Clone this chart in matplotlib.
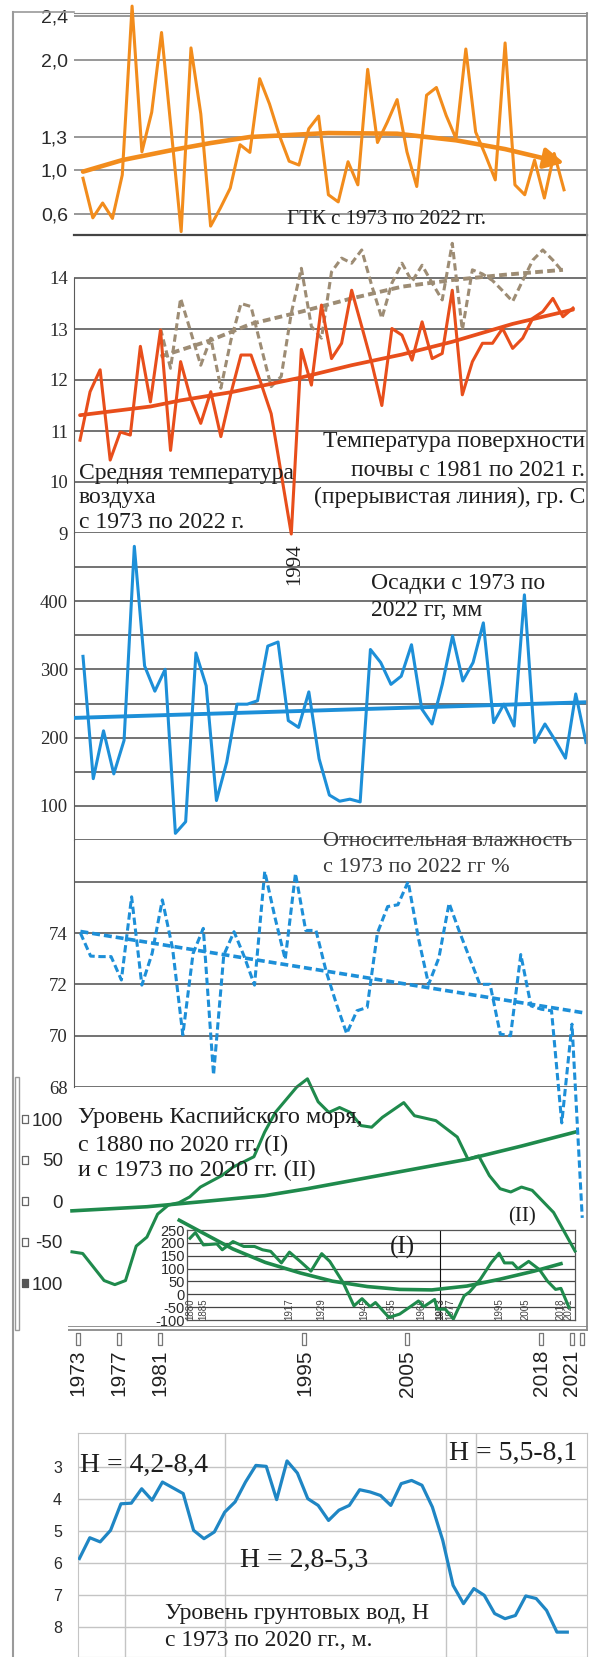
import matplotlib.pyplot as plt
from matplotlib.lines import Line2D
from matplotlib.patches import Rectangle

W, H = 593, 1657
SERIF = 'Liberation Serif'
SANS = 'Liberation Sans'

ORANGE = '#f28c1c'
RED = '#e84e1b'
BROWN = '#9d8c74'
BLUE = '#1d8fd8'
GREEN = '#1f8a4c'
GW_BLUE = '#1f86c4'

# ---------------- data ----------------
years = list(range(1973, 2023))

gtk_ticks = [2.4, 2.0, 1.3, 1.0, 0.6]
gtk_labels = ['2,4', '2,0', '1,3', '1,0', '0,6']
gtk = [0.925, 0.565, 0.70, 0.56, 0.955, 2.49, 1.165, 1.525, 2.25, 1.35,
       0.44, 2.11, 1.51, 0.49, 0.655, 0.835, 1.23, 1.16, 1.83, 1.60,
       1.315, 1.08, 1.045, 1.375, 1.49, 0.775, 0.71, 1.075, 0.865, 1.915,
       1.25, 1.435, 1.64, 1.165, 0.85, 1.68, 1.75, 1.495, 1.285, 2.10,
       1.345, 1.135, 0.91, 2.155, 0.865, 0.775, 1.09, 0.745, 1.15, 0.82]
gtk_trend_years = [1973, 1977, 1982, 1986, 1990, 1998, 2005, 2011, 2016, 2020, 2022]
gtk_trend = [0.985, 1.09, 1.18, 1.245, 1.30, 1.336, 1.33, 1.27, 1.19, 1.105, 1.066]

temp_ticks = [14, 13, 12, 11, 10, 9]
air_temp = [10.82, 11.77, 12.2, 10.43, 10.98, 10.92, 12.66, 11.57, 12.98, 10.62,
            12.36, 11.64, 11.15, 11.77, 10.89, 11.74, 12.49, 12.49, 11.93, 11.34,
            10.16, 8.98, 12.6, 11.9, 13.47, 12.42, 12.72, 13.76, 13.05, 12.33,
            11.5, 13.01, 12.88, 12.39, 13.14, 12.42, 12.52, 13.76, 11.71, 12.36,
            12.72, 12.72, 13.01, 12.62, 12.82, 13.21, 13.34, 13.6, 13.24, 13.41]
air_trend_years = [1973, 1980, 1983, 1988, 1995, 2000, 2005, 2010, 2016, 2022]
air_trend = [11.31, 11.48, 11.6, 11.76, 12.05, 12.29, 12.5, 12.75, 13.1, 13.38]

soil_years = list(range(1981, 2022))
soil_temp = [13.01, 12.23, 13.6, 12.95, 12.29, 12.82, 11.84, 12.78, 13.5, 13.44,
             12.65, 11.87, 12.07, 13.31, 14.19, 13.05, 12.82, 14.12, 14.39, 14.29,
             14.55, 13.85, 13.21, 13.9, 14.29, 13.93, 14.25, 13.9, 13.57, 14.68,
             12.98, 14.16, 14.08, 13.95, 13.75, 13.54, 13.95, 14.35, 14.55, 14.35, 14.12]
soil_trend_years = [1981, 1986, 1990, 1995, 2000, 2005, 2010, 2015, 2021]
soil_trend = [12.46, 12.78, 13.1, 13.34, 13.6, 13.83, 13.96, 14.06, 14.16]

precip_ticks = [400, 300, 200, 100]
precip_grid = [450, 400, 350, 300, 250, 200, 150, 100, 50]
precip = [319, 140, 210, 147, 196, 480, 305, 268, 300, 60,
          77, 324, 276, 108, 164, 249, 249, 254, 334, 340,
          225, 215, 267, 169, 116, 107, 110, 106, 329, 310,
          278, 290, 336, 242, 220, 278, 349, 283, 310, 368,
          222, 249, 217, 409, 193, 220, 196, 170, 264, 193]
precip_trend_years = [1972.3, 2022.4]
precip_trend = [229, 252]

hum_ticks = [74, 72, 70, 68]
hum_grid = [76, 74, 72, 70, 68]
humidity = [74.0, 73.1, 73.08, 73.08, 72.17, 75.41, 71.97, 73.2, 75.29, 73.4,
            70.03, 73.2, 74.18, 68.47, 73.14, 74.05, 73.08, 71.97, 76.4, 74.6,
            72.97, 76.32, 74.1, 74.1, 72.5, 71.23, 70.08, 70.97, 71.1, 74.0,
            75.03, 75.1, 76.0, 73.8, 72.0, 73.03, 75.16, 74.06, 73.03, 72.0,
            72.0, 70.06, 70.0, 73.16, 71.16, 71.03, 70.97, 66.6, 70.45, 62.9]
hum_trend_years = [1973, 2022]
hum_trend = [74.06, 70.9]

casp_ticks = [100, 50, 0, -50, -100]
casp_labels = ['100', '50', '0', '-50', '100']
casp_years = [1973, 1974, 1976, 1977, 1978, 1979, 1980, 1981, 1982, 1983,
              1984, 1985, 1987, 1988, 1990, 1991, 1992, 1994, 1995, 1996,
              1997, 1998, 1999, 2000, 2001, 2002, 2004, 2005, 2007, 2008,
              2009, 2010, 2011, 2012, 2013, 2014, 2015, 2016, 2018, 2020]
casp_level = [-62, -64, -97, -102, -97, -55, -44, -16, -5, -2,
              5, 17, 31, 41, 54, 84, 108, 139, 149, 121,
              108, 114, 108, 92, 90, 102, 120, 104, 98, 88,
              78, 51, 55, 31, 15, 11, 17, 13, -14, -61]
casp_trend_years = [1973, 1980, 1985, 1991, 1995, 2000, 2005, 2010, 2015, 2020]
casp_trend = [-12, -7, -1, 6.5, 15, 27, 39, 51, 67, 84]

long_ticks = [250, 200, 150, 100, 50, 0, -50, -100]
long_years = [1880, 1882, 1885, 1890, 1892, 1896, 1900, 1904, 1907, 1910,
              1914, 1917, 1921, 1925, 1929, 1932, 1937, 1941, 1944, 1947,
              1949, 1954, 1958, 1962, 1965, 1967, 1971, 1972, 1975, 1978,
              1982, 1984, 1988, 1992, 1995, 1997, 2000, 2002, 2006, 2010,
              2013, 2016, 2018, 2021]
long_level = [218, 240, 192, 196, 173, 205, 186, 186, 173, 167,
              122, 164, 128, 90, 158, 128, 45, -45, -17, -48,
              -32, -90, -77, -48, -26, -48, -20, -58, -58, -96,
              -6, 9, 58, 122, 160, 122, 122, 99, 128, 96,
              51, 19, 23, -51]
long_trend_years = [1876, 1884, 1896, 1908, 1921, 1933, 1946, 1958, 1970, 1983, 1995, 2008, 2018]
long_trend = [288, 243, 176, 124, 83, 51, 30, 19, 17, 32, 58, 90, 119]
long_year_labels = [1880, 1885, 1917, 1929, 1945, 1955, 1966, 1973, 1977, 1995, 2005, 2018, 2021]

axis_years = [1973, 1977, 1981, 1995, 2005, 2018, 2021, 2022]
axis_labels = ['1973', '1977', '1981', '1995', '2005', '2018', '2021', '']

gw_ticks = [3, 4, 5, 6, 7, 8]
gw_years = list(range(1973, 2021))
gw_level = [5.86, 5.21, 5.34, 4.98, 4.15, 4.13, 3.68, 4.04, 3.47, 3.65,
            3.83, 4.98, 5.24, 5.03, 4.41, 4.09, 3.47, 2.95, 2.98, 4.02,
            2.81, 3.19, 3.99, 4.20, 4.67, 4.35, 4.20, 3.71, 3.78, 3.89,
            4.20, 3.52, 3.42, 3.57, 4.25, 5.29, 6.70, 7.27, 6.80, 7.01,
            7.58, 7.74, 7.64, 7.03, 7.11, 7.48, 8.16, 8.16]
gw_period_bounds = [1977.4, 1987.0, 2008.3, 2011.2]

# ---------------- helpers ----------------
fig = plt.figure(figsize=(W / 100, H / 100), dpi=100)
fig.patch.set_facecolor('white')


def px_axes(x0, y0, x1, y1, z=1):
    ax = fig.add_axes([x0 / W, 1 - y1 / H, (x1 - x0) / W, (y1 - y0) / H], zorder=z)
    ax.patch.set_visible(False)
    for sp in ax.spines.values():
        sp.set_visible(False)
    ax.set_xticks([])
    ax.set_yticks([])
    return ax


def span(p0, p1, va, pa, vb, pb):
    k = (vb - va) / (pb - pa)
    return va + (p0 - pa) * k, va + (p1 - pa) * k


def ptext(x, y, s, **kw):
    kw.setdefault('va', 'center')
    kw.setdefault('family', SERIF)
    kw.setdefault('color', '#1e1e1e')
    fig.text(x / W, 1 - y / H, s, **kw)


def yticks(ax, vals, labels, family, size, pad_px):
    ax.set_yticks(vals)
    ax.set_yticklabels(labels, fontfamily=family, fontsize=size, color='#2a2a2a')
    ax.tick_params(axis='y', length=0, pad=pad_px * 0.72)


def grid(ax, vals, color='#5a5a5a', lw=1.2):
    for v in vals:
        ax.axhline(v, color=color, lw=lw, zorder=0)


# ---------------- panel 1: GTK ----------------
ax1 = px_axes(74, 13, 587, 235)
ax1.set_xlim(*span(74, 587, 1973, 83, 2022, 564))
ax1.set_ylim(*span(235, 13, 2.4, 16, 0.6, 214))
grid(ax1, gtk_ticks, color='#7c7c7c', lw=1.1)
ax1.spines['bottom'].set_visible(True)
ax1.spines['bottom'].set_color('#444444')
ax1.spines['bottom'].set_linewidth(1.6)
ax1.spines['top'].set_visible(True)
ax1.spines['top'].set_color('#8a8a8a')
yticks(ax1, gtk_ticks, gtk_labels, SANS, 14, 6)
ax1.plot(years, gtk, color=ORANGE, lw=2.2, clip_on=False, zorder=3)
ax1.plot(gtk_trend_years[:-1], gtk_trend[:-1], color=ORANGE, lw=3.3,
         solid_capstyle='round', zorder=4)
ax1.annotate('', xy=(gtk_trend_years[-1], gtk_trend[-1]),
             xytext=(gtk_trend_years[-2], gtk_trend[-2]),
             arrowprops=dict(arrowstyle='-|>,head_length=0.8,head_width=0.42',
                             color=ORANGE, lw=3.0, mutation_scale=15,
                             shrinkA=0, shrinkB=0), zorder=4)
ptext(287, 219, 'ГТК с 1973 по 2022 гг.', fontsize=15)

# ---------------- panel 2: temperatures ----------------
ax2 = px_axes(74, 236, 587, 533)
ax2.set_xlim(*span(74, 587, 1973, 80, 2022, 573))
ax2.set_ylim(*span(533, 236, 14, 278, 9, 533))
grid(ax2, temp_ticks)
ax2.spines['left'].set_visible(True)
ax2.spines['left'].set_bounds(9, 14)
ax2.spines['left'].set_color('#5a5a5a')
yticks(ax2, temp_ticks, [str(t) for t in temp_ticks], SERIF, 13.5, 6)
ax2.plot(soil_years, soil_temp, color=BROWN, lw=2.2, ls=(0, (2.4, 1.3)), zorder=2)
ax2.plot(soil_trend_years, soil_trend, color=BROWN, lw=2.8, ls=(0, (2.0, 1.1)), zorder=2)
ax2.plot(years, air_temp, color=RED, lw=2.2, clip_on=False, zorder=3)
ax2.plot(air_trend_years, air_trend, color=RED, lw=2.7, solid_capstyle='round', zorder=3)

ptext(585, 442, 'Температура поверхности', fontsize=17, ha='right')
ptext(585, 470, 'почвы с 1981 по 2021 г.', fontsize=17, ha='right')
ptext(585, 497, '(прерывистая линия), гр. С', fontsize=17, ha='right')
ptext(79, 473, 'Средняя температура', fontsize=17)
ptext(79, 498, 'воздуха', fontsize=17)
ptext(79, 523, 'с 1973 по 2022 г.', fontsize=17)
ptext(295, 564, '1994', fontsize=15, rotation=90, ha='center')

# ---------------- panel 3: precipitation ----------------
ax3 = px_axes(74, 533, 587, 840)
ax3.set_xlim(*span(74, 587, 1973, 83, 2022, 586))
ax3.set_ylim(*span(840, 533, 400, 601, 100, 806))
grid(ax3, precip_grid)
ax3.spines['left'].set_visible(True)
ax3.spines['left'].set_color('#5a5a5a')
yticks(ax3, precip_ticks, [str(t) for t in precip_ticks], SERIF, 13.5, 6)
ax3.plot(years, precip, color=BLUE, lw=2.2, clip_on=False, zorder=3)
ax3.plot(precip_trend_years, precip_trend, color=BLUE, lw=2.8, zorder=3)
ptext(371, 583, 'Осадки с 1973 по', fontsize=17)
ptext(371, 610, '2022 гг, мм', fontsize=17)

# ---------------- panel 4: humidity ----------------
ax4 = px_axes(74, 840, 587, 1087, z=3)
ax4.set_xlim(*span(74, 587, 1973, 80.4, 2021, 572))
ax4.set_ylim(*span(1087, 840, 74, 933, 68, 1087))
grid(ax4, hum_grid)
ax4.spines['left'].set_visible(True)
ax4.spines['left'].set_color('#5a5a5a')
yticks(ax4, hum_ticks, [str(t) for t in hum_ticks], SERIF, 13.5, 6)
ax4.plot(years, humidity, color=BLUE, lw=2.2, ls=(0, (2.4, 1.2)), clip_on=False, zorder=3)
ax4.plot(hum_trend_years, hum_trend, color=BLUE, lw=2.6, ls=(0, (2.2, 1.1)), zorder=3)
ptext(323, 842, 'Относительная влажность', fontsize=16, color='#3a3a3a')
ptext(323, 867, 'с 1973 по 2022 гг %', fontsize=16, color='#3a3a3a')

# ---------------- panel 5: Caspian sea level ----------------
ax_in = px_axes(187, 1230, 575, 1320, z=1)
ax_in.set_xlim(*span(187, 575, 1880, 190, 2021, 569))
ax_in.set_ylim(-100, 250)
for sp in ax_in.spines.values():
    sp.set_visible(True)
    sp.set_color('#555555')
    sp.set_linewidth(0.9)
grid(ax_in, long_ticks[1:-1], color='#444444', lw=0.9)
ax_in.axvline(1973, color='#111111', lw=0.8, zorder=0)
yticks(ax_in, long_ticks, [str(t) for t in long_ticks], SANS, 10.5, 2)
for yr in long_year_labels:
    ax_in.text(yr, -100, str(yr), rotation=90, ha='center', va='bottom', fontsize=7,
               family=SANS, color='#444444', fontweight='bold' if yr == 1973 else 'normal')
ax_in.plot(long_years, long_level, color=GREEN, lw=2.2, zorder=3)
ax_in.plot(long_trend_years, long_trend, color=GREEN, lw=2.6, clip_on=False, zorder=3)

ax5 = px_axes(68, 1087, 588, 1327, z=2)
ax5.set_xlim(*span(68, 588, 1973, 72, 2020, 575))
ax5.set_ylim(*span(1327, 1087, 100, 1119, -100, 1283))
yticks(ax5, casp_ticks, casp_labels, SANS, 13.5, 5)
box_small = [(-0.42, -0.5), (0.42, -0.5), (0.42, 0.5), (-0.42, 0.5), (-0.42, -0.5)]
bx = (24.5 - 68) / 520
ax5.plot([bx] * 4, casp_ticks[:4], transform=ax5.get_yaxis_transform(), ls='none',
         marker=box_small, ms=5.2, mfc='white', mec='#666666', mew=0.9, clip_on=False)
ax5.plot([bx], casp_ticks[4:], transform=ax5.get_yaxis_transform(), ls='none',
         marker=box_small, ms=5.2, mfc='#555555', mec='#555555', mew=0.9, clip_on=False)
ax5.plot(casp_years, casp_level, color=GREEN, lw=2.2, clip_on=False, zorder=3)
ax5.plot(casp_trend_years, casp_trend, color=GREEN, lw=2.6, zorder=3)
ptext(78, 1118, 'Уровень Каспийского моря,', fontsize=17.5)
ptext(78, 1145, 'с 1880 по 2020 гг. (I)', fontsize=17.5)
ptext(78, 1170, 'и с 1973 по 2020 гг. (II)', fontsize=17.5)
ptext(402, 1247, '(I)', fontsize=18, ha='center')
ptext(522, 1217, '(II)', fontsize=15, ha='center')

# ---------------- common year axis ----------------
ax_x = px_axes(68, 1326, 588, 1350)
ax_x.set_xlim(*span(68, 588, 1973, 78, 2021, 572))
ax_x.set_ylim(0, 1)
ax_x.axhline(1.0, color='#8a8a8a', lw=1.3)
ax_x.axhline(20 / 24, color='#8a8a8a', lw=1.3)
box_tall = [(-0.19, -0.5), (0.19, -0.5), (0.19, 0.5), (-0.19, 0.5), (-0.19, -0.5)]
ax_x.plot(axis_years, [11 / 24] * len(axis_years), ls='none', marker=box_tall, ms=8.8,
          mfc='white', mec='#777777', mew=0.9, clip_on=False)
ax_x.set_xticks(axis_years)
ax_x.set_xticklabels(axis_labels, rotation=90, fontfamily=SANS, fontsize=15, color='#222222')
ax_x.tick_params(axis='x', length=0, pad=0)

# ---------------- panel 6: groundwater ----------------
ax6 = px_axes(78, 1433, 587, 1657)
ax6.set_xlim(*span(78, 587, 1973, 79.4, 2020, 567.3))
ax6.set_ylim(*span(1657, 1433, 3, 1467, 8, 1627))
for sp in ax6.spines.values():
    sp.set_visible(True)
    sp.set_color('#c4c4c4')
grid(ax6, gw_ticks, color='#c4c4c4', lw=1.0)
for b in gw_period_bounds:
    ax6.axvline(b, color='#c4c4c4', lw=1.0, zorder=0)
yticks(ax6, gw_ticks, [str(t) for t in gw_ticks], SANS, 11.5, 16)
ax6.plot(gw_years, gw_level, color=GW_BLUE, lw=2.3, zorder=3)
ptext(80, 1465, 'H = 4,2-8,4', fontsize=20)
ptext(577, 1453, 'H = 5,5-8,1', fontsize=20, ha='right')
ptext(240, 1560, 'H = 2,8-5,3', fontsize=20)
ptext(165, 1613, 'Уровень грунтовых вод, Н', fontsize=17)
ptext(165, 1640, 'с 1973 по 2020 гг., м.', fontsize=17)

# ---------------- frame lines ----------------
fig.add_artist(Line2D([13 / W, 13 / W], [1 - 12 / H, 0], color='#9a9a9a', lw=1.5))
fig.add_artist(Line2D([13 / W, 74 / W], [1 - 12 / H, 1 - 12 / H], color='#9a9a9a', lw=1.2))
fig.add_artist(Line2D([587 / W, 587 / W], [1 - 13 / H, 1 - 1330 / H], color='#8a8a8a', lw=1.3))
fig.add_artist(Rectangle((15 / W, 1 - 1330 / H), 3.5 / W, (1330 - 1077) / H, fill=False,
                         ec='#999999', lw=1.0, transform=fig.transFigure))

fig.savefig('out.png', dpi=100)
